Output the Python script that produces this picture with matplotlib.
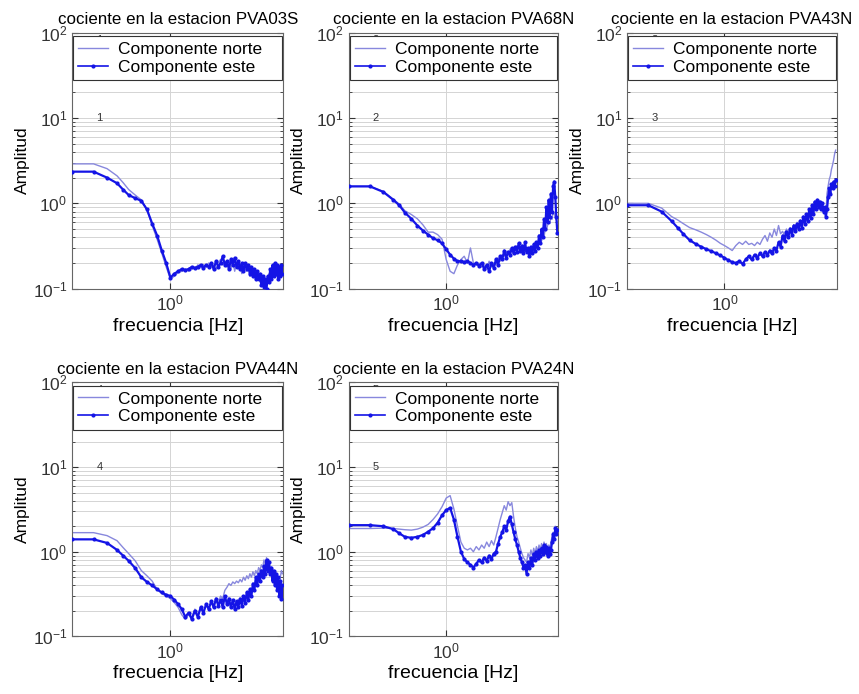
import numpy as np
import matplotlib
matplotlib.use("Agg")
import matplotlib.pyplot as plt
from matplotlib.ticker import LogLocator, LogFormatterMathtext, NullLocator, FixedLocator
from matplotlib.lines import Line2D

plt.rcParams['font.family'] = ['Liberation Sans', 'DejaVu Sans']
plt.rcParams['mathtext.default'] = 'regular'

# frequency samples [Hz], shared by all stations
freq = [0.30, 0.39, 0.46, 0.52, 0.56, 0.60, 0.65, 0.70, 0.75, 0.80, 0.85, 0.90, 0.95, 1.00,
        1.05, 1.10, 1.15, 1.20, 1.25, 1.30, 1.35, 1.40, 1.45, 1.50,
        1.55, 1.60, 1.65, 1.70, 1.75, 1.80, 1.85, 1.90, 1.95, 2.00,
        2.05, 2.10, 2.15, 2.20, 2.25, 2.30, 2.35, 2.40, 2.45, 2.50,
        2.55, 2.60, 2.65, 2.70, 2.75, 2.80, 2.85, 2.90, 2.95, 3.00,
        3.05, 3.10, 3.15, 3.20, 3.25, 3.30, 3.35, 3.40, 3.45, 3.50,
        3.55, 3.60, 3.65, 3.70, 3.75, 3.80, 3.85, 3.90, 3.95]

titles = ['cociente en la estacion PVA03S', 'cociente en la estacion PVA68N',
          'cociente en la estacion PVA43N', 'cociente en la estacion PVA44N',
          'cociente en la estacion PVA24N']
numbers = ['1', '2', '3', '4', '5']

norte_03S = [2.90, 2.90, 2.55, 2.10, 1.75, 1.45, 1.25, 1.10, 0.85, 0.55, 0.38, 0.26, 0.18, 0.13,
             0.14, 0.155, 0.16, 0.17, 0.16, 0.18, 0.17, 0.19, 0.18, 0.19,
             0.18, 0.20, 0.18, 0.19, 0.17, 0.20, 0.22, 0.19, 0.21, 0.18,
             0.20, 0.17, 0.21, 0.16, 0.20, 0.18, 0.19, 0.15, 0.18, 0.17,
             0.16, 0.18, 0.14, 0.17, 0.15, 0.14, 0.16, 0.13, 0.15, 0.12,
             0.13, 0.12, 0.14, 0.11, 0.13, 0.12, 0.15, 0.14, 0.16, 0.15,
             0.17, 0.16, 0.18, 0.15, 0.17, 0.16, 0.19, 0.16, 0.17]
este_03S = [2.35, 2.35, 2.00, 1.72, 1.45, 1.25, 1.15, 1.07, 0.85, 0.58, 0.42, 0.28, 0.20, 0.135,
            0.15, 0.16, 0.17, 0.165, 0.17, 0.18, 0.175, 0.18, 0.19, 0.175,
            0.19, 0.18, 0.20, 0.17, 0.21, 0.18, 0.20, 0.24, 0.19, 0.21,
            0.17, 0.22, 0.19, 0.23, 0.18, 0.21, 0.17, 0.20, 0.16, 0.20,
            0.17, 0.19, 0.15, 0.18, 0.14, 0.17, 0.13, 0.16, 0.13, 0.15,
            0.11, 0.14, 0.105, 0.13, 0.10, 0.14, 0.12, 0.17, 0.13, 0.19,
            0.14, 0.20, 0.15, 0.19, 0.13, 0.18, 0.14, 0.19, 0.15]

norte_68N = [1.58, 1.58, 1.38, 1.12, 0.98, 0.82, 0.74, 0.66, 0.56, 0.46, 0.46, 0.43, 0.38, 0.22,
             0.16, 0.15, 0.19, 0.22, 0.24, 0.20, 0.30, 0.20, 0.19, 0.20,
             0.18, 0.19, 0.17, 0.21, 0.18, 0.20, 0.19, 0.23, 0.21, 0.25,
             0.24, 0.27, 0.25, 0.29, 0.27, 0.30, 0.28, 0.32, 0.29, 0.31,
             0.28, 0.30, 0.27, 0.29, 0.26, 0.28, 0.27, 0.30, 0.29, 0.32,
             0.31, 0.34, 0.33, 0.38, 0.36, 0.42, 0.40, 0.50, 0.48, 0.55,
             0.60, 0.58, 0.70, 0.65, 0.80, 0.75, 0.70, 0.65, 0.60]
este_68N = [1.58, 1.58, 1.36, 1.10, 0.95, 0.78, 0.66, 0.55, 0.48, 0.43, 0.39, 0.37, 0.34, 0.29,
            0.25, 0.225, 0.21, 0.21, 0.205, 0.21, 0.20, 0.19, 0.20, 0.185,
            0.20, 0.17, 0.19, 0.16, 0.20, 0.175, 0.22, 0.19, 0.24, 0.22,
            0.28, 0.23, 0.27, 0.25, 0.30, 0.26, 0.31, 0.27, 0.34, 0.28,
            0.32, 0.26, 0.35, 0.27, 0.30, 0.24, 0.31, 0.26, 0.33, 0.28,
            0.35, 0.30, 0.42, 0.34, 0.50, 0.40, 0.65, 0.50, 0.90, 0.60,
            1.10, 0.70, 1.30, 0.80, 1.60, 1.80, 1.20, 0.70, 0.45]

norte_43N = [1.00, 1.00, 0.88, 0.70, 0.64, 0.58, 0.52, 0.49, 0.46, 0.43, 0.40, 0.37, 0.34, 0.32,
             0.30, 0.28, 0.32, 0.35, 0.33, 0.36, 0.33, 0.34, 0.32, 0.35,
             0.33, 0.38, 0.42, 0.36, 0.45, 0.40, 0.50, 0.42, 0.55, 0.44,
             0.47, 0.42, 0.50, 0.45, 0.52, 0.47, 0.56, 0.50, 0.60, 0.53,
             0.64, 0.56, 0.70, 0.60, 0.76, 0.65, 0.84, 0.70, 0.92, 0.78,
             1.00, 0.88, 1.05, 0.92, 1.00, 0.88, 0.95, 0.82, 0.85, 0.75,
             1.30, 1.60, 1.90, 2.10, 2.50, 2.80, 3.20, 3.80, 4.20]
este_43N = [0.95, 0.95, 0.80, 0.62, 0.52, 0.44, 0.37, 0.335, 0.31, 0.29, 0.275, 0.26, 0.245, 0.23,
            0.215, 0.205, 0.20, 0.21, 0.195, 0.22, 0.24, 0.22, 0.25, 0.23,
            0.26, 0.24, 0.27, 0.25, 0.28, 0.26, 0.30, 0.28, 0.35, 0.31,
            0.42, 0.36, 0.46, 0.40, 0.50, 0.43, 0.55, 0.47, 0.57, 0.50,
            0.62, 0.52, 0.70, 0.58, 0.75, 0.62, 0.85, 0.68, 0.95, 0.75,
            1.05, 0.85, 1.10, 0.90, 1.05, 0.85, 1.00, 0.80, 0.90, 0.70,
            0.85, 1.20, 1.50, 1.30, 1.70, 1.50, 1.80, 1.60, 1.90]

norte_44N = [1.68, 1.68, 1.55, 1.35, 1.12, 0.95, 0.78, 0.60, 0.52, 0.45, 0.36, 0.32, 0.30, 0.28,
             0.25, 0.22, 0.18, 0.16, 0.18, 0.17, 0.21, 0.18, 0.22, 0.20,
             0.23, 0.22, 0.25, 0.24, 0.27, 0.25, 0.30, 0.28, 0.35, 0.38,
             0.42, 0.40, 0.44, 0.42, 0.45, 0.43, 0.47, 0.44, 0.50, 0.46,
             0.52, 0.48, 0.55, 0.50, 0.58, 0.52, 0.60, 0.55, 0.65, 0.60,
             0.70, 0.65, 0.80, 0.70, 0.85, 0.75, 0.70, 0.60, 0.55, 0.50,
             0.48, 0.42, 0.45, 0.38, 0.42, 0.35, 0.50, 0.60, 0.55]
este_44N = [1.40, 1.40, 1.27, 1.05, 0.90, 0.78, 0.64, 0.50, 0.44, 0.40, 0.36, 0.33, 0.31, 0.30,
            0.27, 0.24, 0.21, 0.17, 0.19, 0.16, 0.20, 0.17, 0.22, 0.19,
            0.24, 0.21, 0.26, 0.22, 0.28, 0.23, 0.27, 0.22, 0.30, 0.24,
            0.28, 0.22, 0.27, 0.21, 0.26, 0.22, 0.28, 0.23, 0.30, 0.25,
            0.33, 0.27, 0.36, 0.30, 0.42, 0.35, 0.50, 0.40, 0.55, 0.45,
            0.60, 0.50, 0.68, 0.55, 0.80, 0.60, 0.75, 0.55, 0.65, 0.45,
            0.60, 0.40, 0.55, 0.35, 0.50, 0.30, 0.45, 0.28, 0.40]

norte_24N = [1.88, 1.88, 1.90, 1.88, 1.85, 1.82, 1.80, 1.85, 1.95, 2.10, 2.40, 2.80, 3.40, 4.30,
             4.60, 3.20, 2.00, 1.30, 1.10, 1.05, 1.10, 1.00, 1.15, 1.05,
             1.20, 1.10, 1.30, 1.15, 1.35, 1.20, 1.50, 1.90, 2.40, 2.90,
             3.50, 3.10, 3.90, 3.50, 3.80, 2.60, 1.90, 1.50, 1.30, 1.10,
             0.95, 0.85, 0.80, 0.75, 0.95, 0.85, 1.05, 0.90, 1.10, 0.95,
             1.15, 1.00, 1.20, 1.05, 1.25, 1.10, 1.30, 1.15, 1.25, 1.05,
             1.20, 1.10, 1.30, 1.50, 1.70, 1.50, 2.00, 1.70, 1.90]
este_24N = [2.06, 2.06, 2.00, 1.85, 1.65, 1.50, 1.46, 1.50, 1.58, 1.72, 1.90, 2.20, 2.70, 3.10,
            3.30, 2.40, 1.50, 1.00, 0.82, 0.75, 0.70, 0.65, 0.72, 0.80,
            0.75, 0.85, 0.78, 0.90, 0.82, 0.95, 1.00, 1.25, 1.50, 1.70,
            2.00, 1.80, 2.30, 2.60, 2.10, 1.70, 1.40, 1.20, 1.00, 0.85,
            0.75, 0.65, 0.70, 0.55, 0.75, 0.65, 0.85, 0.70, 0.95, 0.80,
            1.00, 0.85, 1.05, 0.90, 1.10, 0.95, 1.20, 1.00, 1.15, 0.90,
            1.10, 0.95, 1.05, 1.30, 1.60, 1.40, 1.90, 1.60, 1.80]

norte = [norte_03S, norte_68N, norte_43N, norte_44N, norte_24N]
este = [este_03S, este_68N, este_43N, este_44N, este_24N]

# axes rectangles in figure fractions
positions = [[0.084, 0.584, 0.246, 0.369],
             [0.406, 0.584, 0.244, 0.369],
             [0.730, 0.584, 0.244, 0.369],
             [0.084, 0.083, 0.246, 0.366],
             [0.406, 0.083, 0.244, 0.366]]

c_norte = '#8888dd'
c_este = '#1414e6'

fig = plt.figure(figsize=(8.59, 6.94), dpi=100)

for i in range(5):
    ax = fig.add_axes(positions[i])
    ax.plot(freq, norte[i], color=c_norte, lw=1.0, zorder=2)
    ax.plot(freq, este[i], color=c_este, lw=1.6, marker='.', ms=4, zorder=3)
    ax.set_xscale('log')
    ax.set_yscale('log')
    ax.set_xlim(0.3, 4.0)
    ax.set_ylim(0.1, 100)

    ax.xaxis.set_major_locator(FixedLocator([1.0]))
    ax.xaxis.set_major_formatter(LogFormatterMathtext())
    ax.xaxis.set_minor_locator(NullLocator())
    ax.yaxis.set_major_locator(LogLocator(base=10))
    ax.yaxis.set_major_formatter(LogFormatterMathtext())
    ax.yaxis.set_minor_locator(LogLocator(base=10, subs=np.arange(2, 10)))

    ax.grid(True, which='major', axis='x', color='#d4d4d4', lw=0.7)
    ax.grid(True, which='both', axis='y', color='#d4d4d4', lw=0.7)
    ax.set_axisbelow(True)
    ax.tick_params(which='both', direction='in', top=True, right=True,
                   labelsize=12.5, colors='#333333')
    ax.tick_params(which='major', length=4)
    ax.tick_params(which='minor', length=2)
    for s in ax.spines.values():
        s.set_color('#666666')
        s.set_linewidth(0.8)

    ax.set_title(titles[i], fontsize=12.2, pad=6)
    ax.set_xlabel('frecuencia [Hz]', fontsize=14, labelpad=3)
    ax.set_ylabel('Amplitud', fontsize=12.5, labelpad=2)

    tr = ax.get_yaxis_transform()
    ax.text(0.13, 10, numbers[i], transform=tr, fontsize=8, ha='center', va='center',
            color='#333333')
    ax.text(0.13, 82, numbers[i], transform=tr, fontsize=8, ha='center', va='center',
            color='#333333', zorder=1)

    handles = [Line2D([], [], color=c_norte, lw=1.0),
               Line2D([], [], color=c_este, lw=1.2, marker='.', ms=4)]
    leg = ax.legend(handles, ['Componente norte', 'Componente este'],
                    loc='upper left', bbox_to_anchor=(0.005, 0.985, 0.99, 0.0),
                    mode='expand', fancybox=False, framealpha=1, edgecolor='#333333',
                    fontsize=12.5, handlelength=1.7, borderpad=0.3, labelspacing=0.15,
                    handletextpad=0.6, borderaxespad=0.0)
    leg.get_frame().set_linewidth(0.8)
    leg.set_zorder(5)

fig.savefig('out.png', dpi=100)
